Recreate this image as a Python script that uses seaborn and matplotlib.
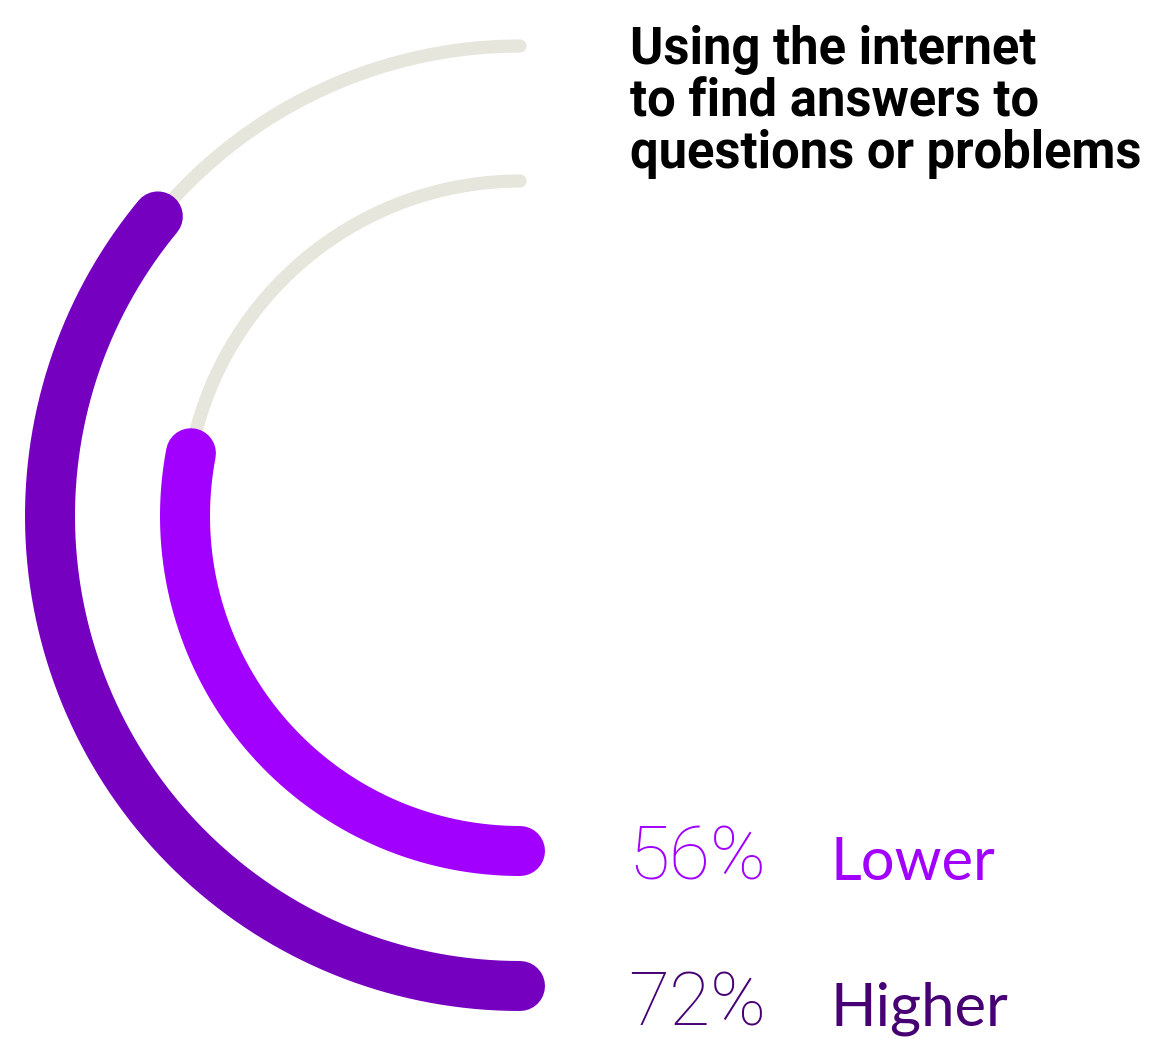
import numpy as np
import pandas as pd
import matplotlib.pyplot as plt
import seaborn as sns

# data
groups = ['Lower', 'Higher']
values = [56, 72]
radii = [335, 470]            # ring radius, inner ring first
bar_colours = ['#A100FF', '#7500C0']
text_colours = ['#A100FF', '#460073']
track_colour = '#E6E6DC'
title = 'Using the internet\nto find answers to\nquestions or problems'

full_span = 180.0  # degrees for 100%, from bottom round the left to the top

sns.set_theme(style='white')
plt.rcParams['font.family'] = ['Lato', 'DejaVu Sans']

W, H = 1152, 1039
fig = plt.figure(figsize=(W / 100, H / 100), dpi=100)
rmax = 520
# polar axes centred at pixel (520, 516 from top)
ax = fig.add_axes([0, 3 / H, 1040 / W, 1040 / H], projection='polar')
ax.set_ylim(0, rmax)
ax.set_axis_off()


def arc(value, r):
    start = np.deg2rad(270)
    end = np.deg2rad(270 - full_span * value / 100)
    theta = np.linspace(start, end, 300)
    return pd.DataFrame({'theta': theta, 'r': np.full_like(theta, r)})


for i, g in enumerate(groups):
    track = arc(100, radii[i])
    sns.lineplot(data=track, x='theta', y='r', sort=False, ax=ax, color=track_colour,
                 linewidth=9.5, solid_capstyle='round', estimator=None)
    bar = arc(values[i], radii[i])
    sns.lineplot(data=bar, x='theta', y='r', sort=False, ax=ax, color=bar_colours[i],
                 linewidth=36, solid_capstyle='round', estimator=None)

ax.set_xlabel('')
ax.set_ylabel('')

# labels
baselines = [880, 1026]
for i, g in enumerate(groups):
    y = 1 - baselines[i] / H
    fig.text(628 / W, y, f'{values[i]}%', color=text_colours[i], fontsize=54,
             family=['Roboto', 'DejaVu Sans'], fontweight='light',
             va='baseline', ha='left')
    fig.text(830 / W, y, g, color=text_colours[i], fontsize=43,
             fontweight='normal', va='baseline', ha='left')

fig.text(630 / W, 1 - 168 / H, title, color='black', fontsize=36.5,
         family=['Roboto', 'DejaVu Sans'], fontweight='bold',
         va='baseline', ha='left', linespacing=1.05)

plt.savefig('out.png', dpi=100)
